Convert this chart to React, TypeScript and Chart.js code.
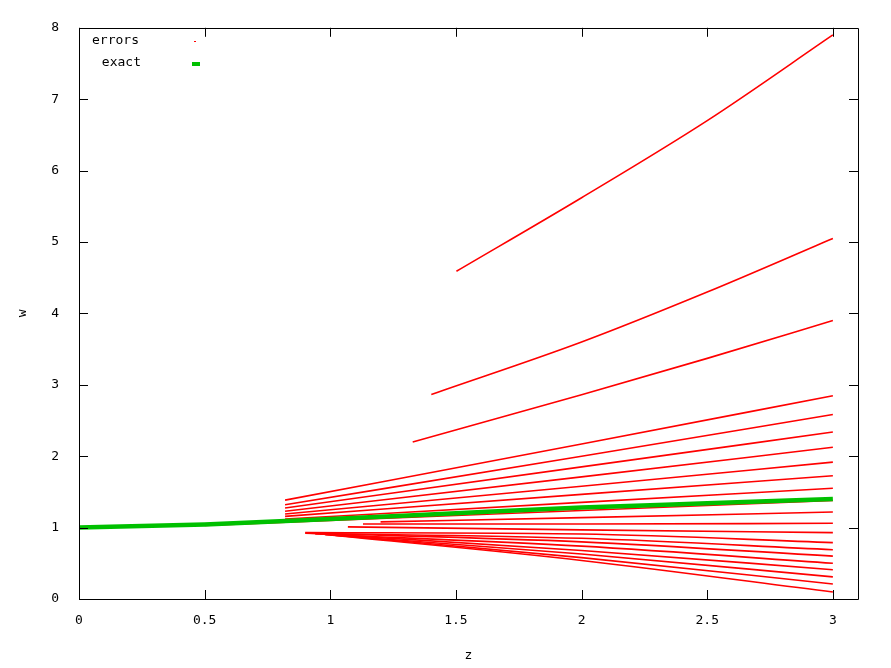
import React, { useEffect, useRef } from "react";
import { Chart, registerables } from "chart.js";

Chart.register(...registerables);

// axis ticks
const xTickValues = [0, 0.5, 1, 1.5, 2, 2.5, 3];
const yTickValues = [0, 1, 2, 3, 4, 5, 6, 7, 8];

// exact solution
const exactZ = [0, 0.5, 1, 1.5, 2, 2.5, 3];
const exactW = [1.0, 1.045, 1.12, 1.2, 1.28, 1.34, 1.4];

// curved error branches
const curve1Z = [1.502, 2, 2.5, 3];
const curve1W = [4.59, 5.62, 6.7, 7.9];
const curve2Z = [1.402, 2, 2.5, 3];
const curve2W = [2.865, 3.6, 4.3, 5.05];
const curve3Z = [1.328, 2, 2.5, 3];
const curve3W = [2.2, 2.86, 3.37, 3.9];

// fan of error branches: start (z, w), w at z = 2, w at z = 3
const fanStartZ = [0.82, 0.82, 0.82, 0.82, 0.82, 0.82, 0.82, 0.5, 1.2, 1.13, 1.07, 0.9, 0.9, 0.92, 0.94, 0.96, 0.98, 1.0, 1.02];
const fanStartW = [1.385, 1.32, 1.275, 1.23, 1.19, 1.157, 1.12, 1.03, 1.08, 1.05, 1.01, 0.93, 0.92, 0.92, 0.91, 0.91, 0.9, 0.9, 0.89];
const fanMidZ = 2;
const fanMidW = [2.17, 2.0, 1.85, 1.71, 1.58, 1.466, 1.353, 1.24, 1.14, 1.05, 0.968, 0.91, 0.85, 0.8, 0.74, 0.68, 0.63, 0.58, 0.54];
const fanEndZ = 3;
const fanEndW = [2.847, 2.583, 2.338, 2.125, 1.917, 1.727, 1.551, 1.38, 1.218, 1.06, 0.93, 0.79, 0.69, 0.6, 0.5, 0.41, 0.31, 0.21, 0.097];

const legendLabels = ["errors", "exact"];

const RED = "rgb(255,0,0)";
const GREEN = "rgb(0,192,0)";
const FONT = "'DejaVu Sans Mono', monospace";

const framePlugin = {
  id: "gnuplotFrame",
  afterDatasetsDraw(chart: any) {
    const { ctx, chartArea, scales } = chart;
    const { left, right, top, bottom } = chartArea;
    const tl = 9;
    ctx.save();
    ctx.strokeStyle = "#000";
    ctx.lineWidth = 1;
    ctx.beginPath();
    ctx.rect(Math.round(left) + 0.5, Math.round(top) + 0.5, Math.round(right - left), Math.round(bottom - top));
    for (const v of xTickValues) {
      const x = Math.round(scales.x.getPixelForValue(v)) + 0.5;
      ctx.moveTo(x, bottom);
      ctx.lineTo(x, bottom - tl);
      ctx.moveTo(x, top);
      ctx.lineTo(x, top + tl);
    }
    for (const v of yTickValues) {
      const y = Math.round(scales.y.getPixelForValue(v)) + 0.5;
      ctx.moveTo(left, y);
      ctx.lineTo(left + tl, y);
      ctx.moveTo(right, y);
      ctx.lineTo(right - tl, y);
    }
    ctx.stroke();

    // key
    ctx.font = "13px " + FONT;
    ctx.fillStyle = "#000";
    ctx.textAlign = "right";
    ctx.textBaseline = "middle";
    ctx.fillText(legendLabels[0], 139, 41);
    ctx.fillText(legendLabels[1], 141, 63);
    ctx.fillStyle = RED;
    ctx.fillRect(194, 41, 2, 1);
    ctx.fillStyle = GREEN;
    ctx.fillRect(192, 62, 8, 4);
    ctx.restore();
  },
};

export default function App() {
  const ref = useRef<HTMLCanvasElement | null>(null);

  useEffect(() => {
    if (!ref.current) return;
    const errorSets: any[] = [];
    const curves = [
      [curve1Z, curve1W],
      [curve2Z, curve2W],
      [curve3Z, curve3W],
    ];
    for (const [zs, ws] of curves) {
      errorSets.push({
        label: "errors",
        data: zs.map((z, i) => ({ x: z, y: ws[i] })),
        borderColor: RED,
        borderWidth: 1.6,
        pointRadius: 0,
        cubicInterpolationMode: "monotone",
        fill: false,
      });
    }
    for (let i = 0; i < fanStartZ.length; i++) {
      errorSets.push({
        label: "errors",
        data: [
          { x: fanStartZ[i], y: fanStartW[i] },
          { x: fanMidZ, y: fanMidW[i] },
          { x: fanEndZ, y: fanEndW[i] },
        ],
        borderColor: RED,
        borderWidth: 1.6,
        pointRadius: 0,
        cubicInterpolationMode: "monotone",
        fill: false,
      });
    }

    const chart = new Chart(ref.current, {
      type: "line",
      data: {
        datasets: [
          {
            label: "exact",
            data: exactZ.map((z, i) => ({ x: z, y: exactW[i] })),
            borderColor: GREEN,
            borderWidth: 4.5,
            pointRadius: 0,
            cubicInterpolationMode: "monotone",
            fill: false,
          },
          ...errorSets,
        ],
      },
      options: {
        responsive: false,
        animation: false,
        devicePixelRatio: 1,
        layout: { padding: { top: 23, right: 33, left: 0, bottom: 0 } },
        plugins: { legend: { display: false }, tooltip: { enabled: false } },
        scales: {
          x: {
            type: "linear",
            min: 0,
            max: 3.1,
            afterFit: (s: any) => {
              s.height = 69;
            },
            afterBuildTicks: (s: any) => {
              s.ticks = xTickValues.map((v) => ({ value: v }));
            },
            grid: { display: false, drawTicks: false },
            border: { display: false },
            ticks: {
              padding: 14,
              color: "#000",
              font: { family: FONT, size: 13 },
              maxRotation: 0,
              callback: (v: any) => String(Number(v)),
            },
            title: {
              display: true,
              text: "z",
              color: "#000",
              font: { family: FONT, size: 13 },
              padding: { top: 0, bottom: 5 },
            },
          },
          y: {
            type: "linear",
            min: 0,
            max: 8,
            afterFit: (s: any) => {
              s.width = 79;
            },
            afterBuildTicks: (s: any) => {
              s.ticks = yTickValues.map((v) => ({ value: v }));
            },
            grid: { display: false, drawTicks: false },
            border: { display: false },
            ticks: {
              padding: 20,
              color: "#000",
              font: { family: FONT, size: 13 },
              callback: (v: any) => String(Number(v)),
            },
            title: {
              display: true,
              text: "w",
              color: "#000",
              font: { family: FONT, size: 13 },
              padding: { top: 15, bottom: 0 },
            },
          },
        },
      },
      plugins: [framePlugin],
    });
    return () => chart.destroy();
  }, []);

  return (
    <div style={{ position: "absolute", left: 0, top: 0, width: 891, height: 668, background: "#fff" }}>
      <canvas ref={ref} width={891} height={668} style={{ display: "block" }} />
    </div>
  );
}
